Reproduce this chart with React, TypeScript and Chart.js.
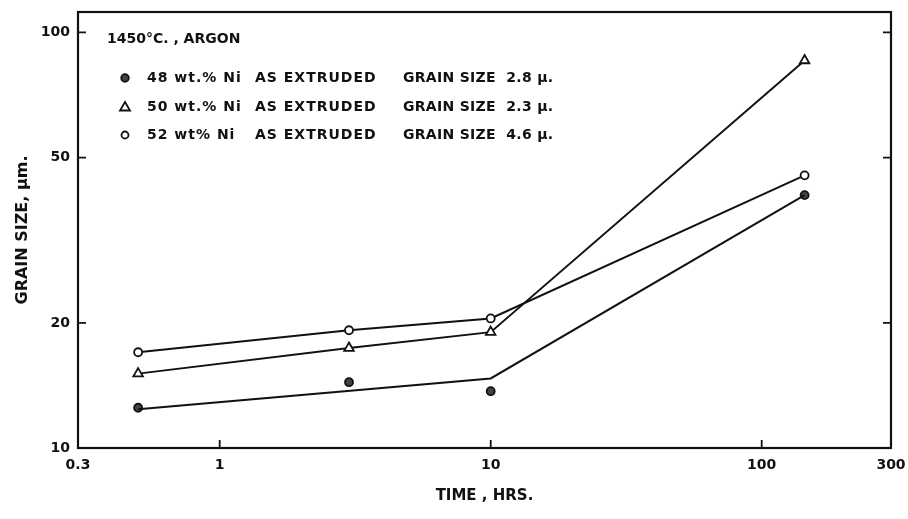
import React, { useEffect, useRef } from "react";
import { Chart, registerables } from "chart.js";

Chart.register(...registerables);

const timeHrs = [0.5, 3, 10, 144];
const ni48 = [12.5, 14.4, 13.7, 40.6];
const ni50 = [15.1, 17.4, 19.0, 85.6];
const ni52 = [17.0, 19.2, 20.5, 45.3];
const fit48Time = [0.5, 10, 144];
const fit48Size = [12.4, 14.7, 40.6];
const xTicks = [0.3, 1, 10, 100, 300];
const yTicks = [10, 20, 50, 100];
const legendTitle = "1450°C. , ARGON";
const legendRows = [
  ["48 wt.% Ni", "AS EXTRUDED", "GRAIN SIZE  2.8 μ."],
  ["50 wt.% Ni", "AS EXTRUDED", "GRAIN SIZE  2.3 μ."],
  ["52 wt% Ni", "AS EXTRUDED", "GRAIN SIZE  4.6 μ."],
];

const FONT = "'DejaVu Sans', sans-serif";
const INK = "#111";

function pts(xs: number[], ys: number[]) {
  return xs.map((x, i) => ({ x, y: ys[i] }));
}

const framePlugin = {
  id: "frame",
  afterDraw(chart: any) {
    const { ctx, chartArea: a, scales } = chart;
    const xs = scales.x;
    const ys = scales.y;
    ctx.save();
    ctx.strokeStyle = INK;
    ctx.lineWidth = 2.2;
    ctx.strokeRect(a.left, a.top, a.right - a.left, a.bottom - a.top);
    ctx.lineWidth = 1.8;
    const tl = 8;
    [1, 10, 100].forEach((v) => {
      const px = xs.getPixelForValue(v);
      ctx.beginPath();
      ctx.moveTo(px, a.bottom);
      ctx.lineTo(px, a.bottom - tl);
      ctx.stroke();
    });
    [20, 50, 100].forEach((v) => {
      const py = ys.getPixelForValue(v);
      ctx.beginPath();
      ctx.moveTo(a.left, py);
      ctx.lineTo(a.left + tl, py);
      ctx.moveTo(a.right, py);
      ctx.lineTo(a.right - tl, py);
      ctx.stroke();
    });

    // legend
    ctx.fillStyle = INK;
    ctx.textBaseline = "middle";
    (ctx as any).letterSpacing = "0px";
    ctx.font = `bold 14px ${FONT}`;
    ctx.fillText(legendTitle, 107, 39);
    const rowY = [78, 107, 135];
    const mx = 125;
    rowY.forEach((y, i) => {
      ctx.lineWidth = 1.8;
      ctx.strokeStyle = INK;
      if (i === 0) {
        ctx.beginPath();
        ctx.arc(mx, y, 3.8, 0, Math.PI * 2);
        ctx.fillStyle = "#444";
        ctx.fill();
        ctx.stroke();
      } else if (i === 1) {
        ctx.beginPath();
        ctx.moveTo(mx, y - 5);
        ctx.lineTo(mx + 5, y + 3.5);
        ctx.lineTo(mx - 5, y + 3.5);
        ctx.closePath();
        ctx.fillStyle = "#fff";
        ctx.fill();
        ctx.stroke();
      } else {
        ctx.beginPath();
        ctx.arc(mx, y, 3.5, 0, Math.PI * 2);
        ctx.fillStyle = "#fff";
        ctx.fill();
        ctx.stroke();
      }
      ctx.fillStyle = INK;
      ctx.font = `bold 14px ${FONT}`;
      const r = legendRows[i];
      (ctx as any).letterSpacing = "1px";
      ctx.fillText(r[0], 147, y);
      ctx.fillText(r[1], 255, y);
      (ctx as any).letterSpacing = "0.3px";
      ctx.fillText(r[2], 403, y);
    });
    ctx.restore();
  },
};

export default function App() {
  const ref = useRef<HTMLCanvasElement | null>(null);
  useEffect(() => {
    if (!ref.current) return;
    const common = {
      borderColor: INK,
      borderWidth: 2,
      pointBorderColor: INK,
      pointBorderWidth: 1.8,
    };
    const chart = new Chart(ref.current, {
      type: "scatter",
      data: {
        datasets: [
          {
            ...common,
            label: "48 fit",
            data: pts(fit48Time, fit48Size),
            showLine: true,
            pointRadius: 0,
          },
          {
            ...common,
            label: "48 wt.% Ni",
            data: pts(timeHrs, ni48),
            showLine: false,
            pointStyle: "circle",
            pointRadius: 4,
            pointBackgroundColor: "#444",
          },
          {
            ...common,
            label: "50 wt.% Ni",
            data: pts(timeHrs, ni50),
            showLine: true,
            pointStyle: "triangle",
            pointRadius: 5.5,
            pointBackgroundColor: "#fff",
          },
          {
            ...common,
            label: "52 wt% Ni",
            data: pts(timeHrs, ni52),
            showLine: true,
            pointStyle: "circle",
            pointRadius: 4,
            pointBackgroundColor: "#fff",
          },
        ],
      },
      options: {
        responsive: false,
        animation: false,
        layout: { padding: { top: 12, right: 17, left: 0, bottom: 0 } },
        plugins: {
          legend: { display: false },
          tooltip: { enabled: false },
        },
        scales: {
          x: {
            type: "logarithmic",
            min: 0.3,
            max: 300,
            grid: { display: false, drawTicks: false },
            border: { display: false },
            afterBuildTicks: (s: any) => {
              s.ticks = xTicks.map((v) => ({ value: v }));
            },
            afterFit: (s: any) => {
              s.height = 71;
              s.paddingLeft = 0;
              s.paddingRight = 0;
            },
            ticks: {
              autoSkip: false,
              maxRotation: 0,
              padding: 9,
              color: INK,
              font: { family: FONT, size: 14, weight: "bold" },
              callback: (v: any) => String(v),
            },
            title: {
              display: true,
              text: "TIME , HRS.",
              color: INK,
              font: { family: FONT, size: 15, weight: "bold" },
              padding: { top: 10, bottom: 14 },
            },
          },
          y: {
            type: "logarithmic",
            min: 10,
            max: 112,
            grid: { display: false, drawTicks: false },
            border: { display: false },
            afterBuildTicks: (s: any) => {
              s.ticks = yTicks.map((v) => ({ value: v }));
            },
            afterFit: (s: any) => {
              s.width = 78;
              s.paddingTop = 0;
              s.paddingBottom = 0;
            },
            ticks: {
              autoSkip: false,
              padding: 8,
              color: INK,
              font: { family: FONT, size: 14, weight: "bold" },
              callback: (v: any) => String(v),
            },
            title: {
              display: true,
              text: "GRAIN SIZE, μm.",
              color: INK,
              font: { family: FONT, size: 16, weight: "bold" },
              padding: { top: 13, bottom: 0 },
            },
          },
        },
      },
      plugins: [framePlugin],
    } as any);
    return () => chart.destroy();
  }, []);
  return (
    <div style={{ position: "absolute", left: 0, top: 0, width: 908, height: 519, background: "#fff" }}>
      <canvas ref={ref} width={908} height={519} style={{ display: "block" }} />
    </div>
  );
}
